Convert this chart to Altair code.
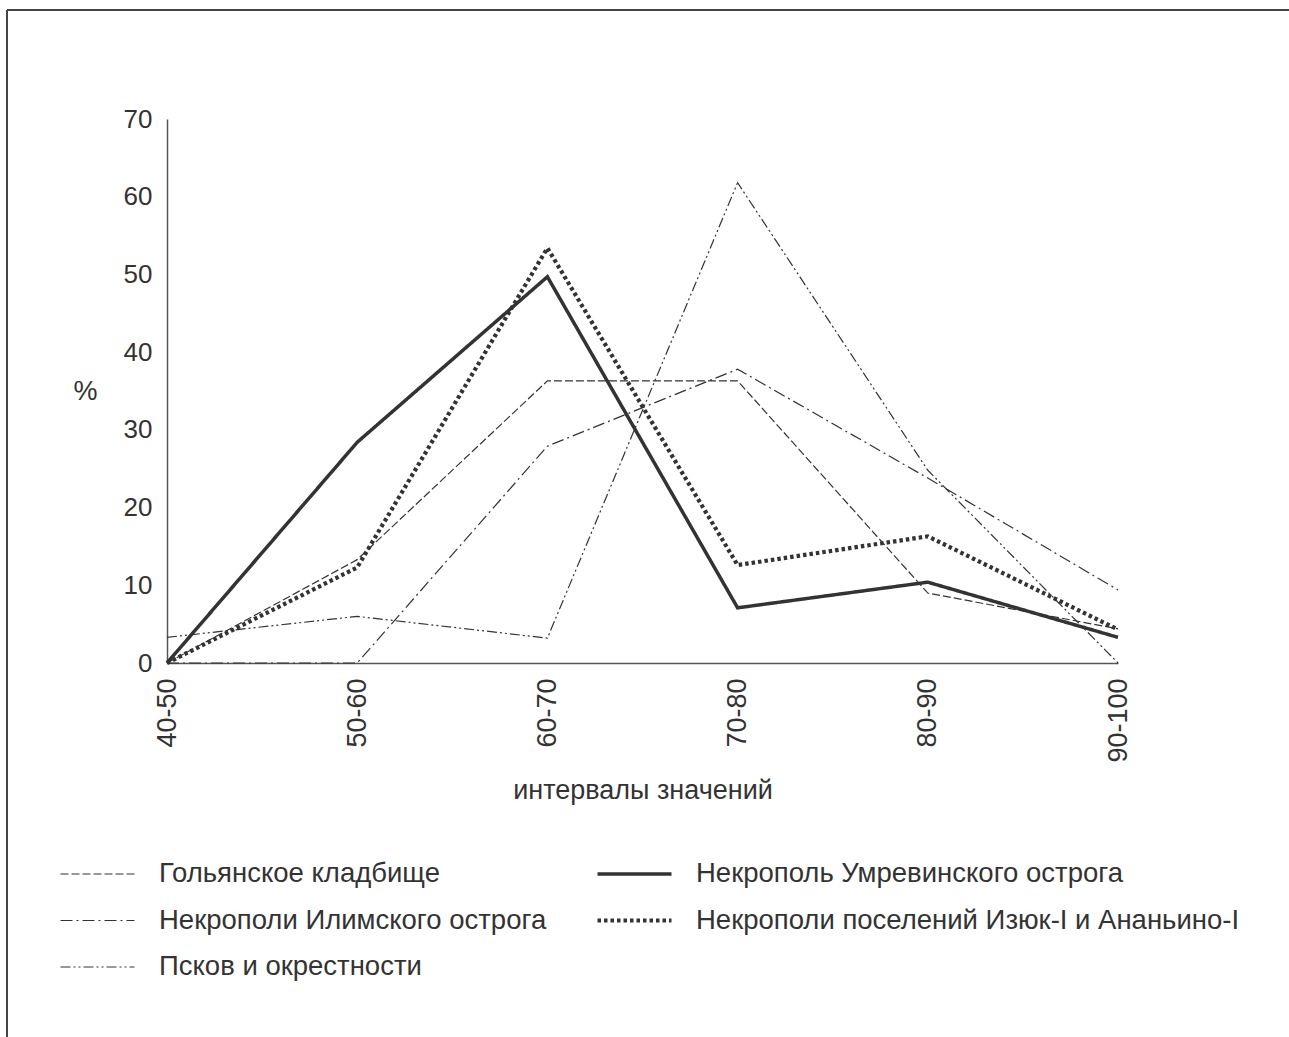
import altair as alt
import pandas as pd

categories = ["40-50", "50-60", "60-70", "70-80", "80-90", "90-100"]

# legend order (column-major: first column three entries, second column two)
series_names = [
    "Гольянское кладбище",
    "Некрополи Илимского острога",
    "Псков и окрестности",
    "Некрополь Умревинского острога",
    "Некрополи поселений Изюк-I и Ананьино-I",
]

golyanskoe = [0, 13.3, 36.3, 36.3, 9.0, 4.4]
ilimsky = [0, 0, 27.9, 37.8, 23.8, 9.4]
pskov = [3.3, 6.0, 3.2, 61.8, 24.8, 0]
umrevinsky = [0, 28.4, 49.7, 7.1, 10.4, 3.3]
izyuk = [0, 12.3, 53.4, 12.6, 16.3, 4.3]

values_by_series = [golyanskoe, ilimsky, pskov, umrevinsky, izyuk]

dash_range = [[8, 3], [12, 4, 2, 4], [10, 3, 2, 3, 2, 3], [1, 0], [3.5, 3]]
width_range = [1.2, 1.2, 1.2, 3.5, 4.2]

rows = []
for name, vals in zip(series_names, values_by_series):
    for cat, v in zip(categories, vals):
        rows.append({"series": name, "interval": cat, "value": v})
df = pd.DataFrame(rows)

FONT = "Liberation Sans"
TXT = "#333333"

legend = alt.Legend(
    title=None,
    orient="none",
    legendX=-109,
    legendY=740,
    columns=2,
    columnPadding=48,
    rowPadding=16.5,
    clipHeight=30,
    symbolType="stroke",
    symbolSize=5476,
    symbolStrokeColor="#333333",
    labelFont=FONT,
    labelFontSize=27.5,
    labelColor=TXT,
    labelOffset=22,
    labelLimit=0,
)

lines = alt.Chart(df).mark_line(color="#333333", strokeCap="butt").encode(
    x=alt.X(
        "interval:O",
        sort=categories,
        scale=alt.Scale(type="point", padding=0),
        axis=alt.Axis(
            title="интервалы значений",
            labelAngle=-90,
            labelFont=FONT,
            labelFontSize=27,
            labelColor=TXT,
            labelPadding=15,
            ticks=False,
            grid=False,
            domainColor="#555555",
            domainWidth=1.5,
            titleFont=FONT,
            titleFontSize=27,
            titleFontWeight="normal",
            titleColor=TXT,
            titleBaseline="middle",
            titleY=127,
        ),
    ),
    y=alt.Y(
        "value:Q",
        scale=alt.Scale(domain=[0, 70], nice=False),
        axis=alt.Axis(
            title="%",
            values=[0, 10, 20, 30, 40, 50, 60, 70],
            labelFont=FONT,
            labelFontSize=26,
            labelColor=TXT,
            labelPadding=15,
            ticks=False,
            grid=False,
            domainColor="#555555",
            domainWidth=1.5,
            titleFont=FONT,
            titleFontSize=27,
            titleFontWeight="normal",
            titleColor=TXT,
            titleAngle=0,
            titleAlign="center",
            titleBaseline="middle",
            titleX=-82,
            titleY=272,
        ),
    ),
    strokeDash=alt.StrokeDash(
        "series:N",
        scale=alt.Scale(domain=series_names, range=dash_range),
        legend=legend,
    ),
    strokeWidth=alt.StrokeWidth(
        "series:N",
        scale=alt.Scale(type="ordinal", domain=series_names, range=width_range),
        legend=legend,
    ),
    detail="series:N",
)

frame_data = pd.DataFrame({"k": [0]})
frame_left = alt.Chart(frame_data).mark_rule(color="#444444", strokeWidth=2).encode(
    x=alt.value(-160), y=alt.value(-109), y2=alt.value(930)
)
frame_top = alt.Chart(frame_data).mark_rule(color="#444444", strokeWidth=2).encode(
    x=alt.value(-160), x2=alt.value(1130), y=alt.value(-109)
)

chart = alt.layer(lines, frame_left, frame_top).properties(
    width=951,
    height=544,
    autosize=alt.AutoSizeParams(type="none"),
    padding={"left": 167, "top": 119, "right": 171, "bottom": 374},
    background="white",
).configure_view(stroke=None)

chart.save("out.html", embed_options={"renderer": "svg", "actions": False})
